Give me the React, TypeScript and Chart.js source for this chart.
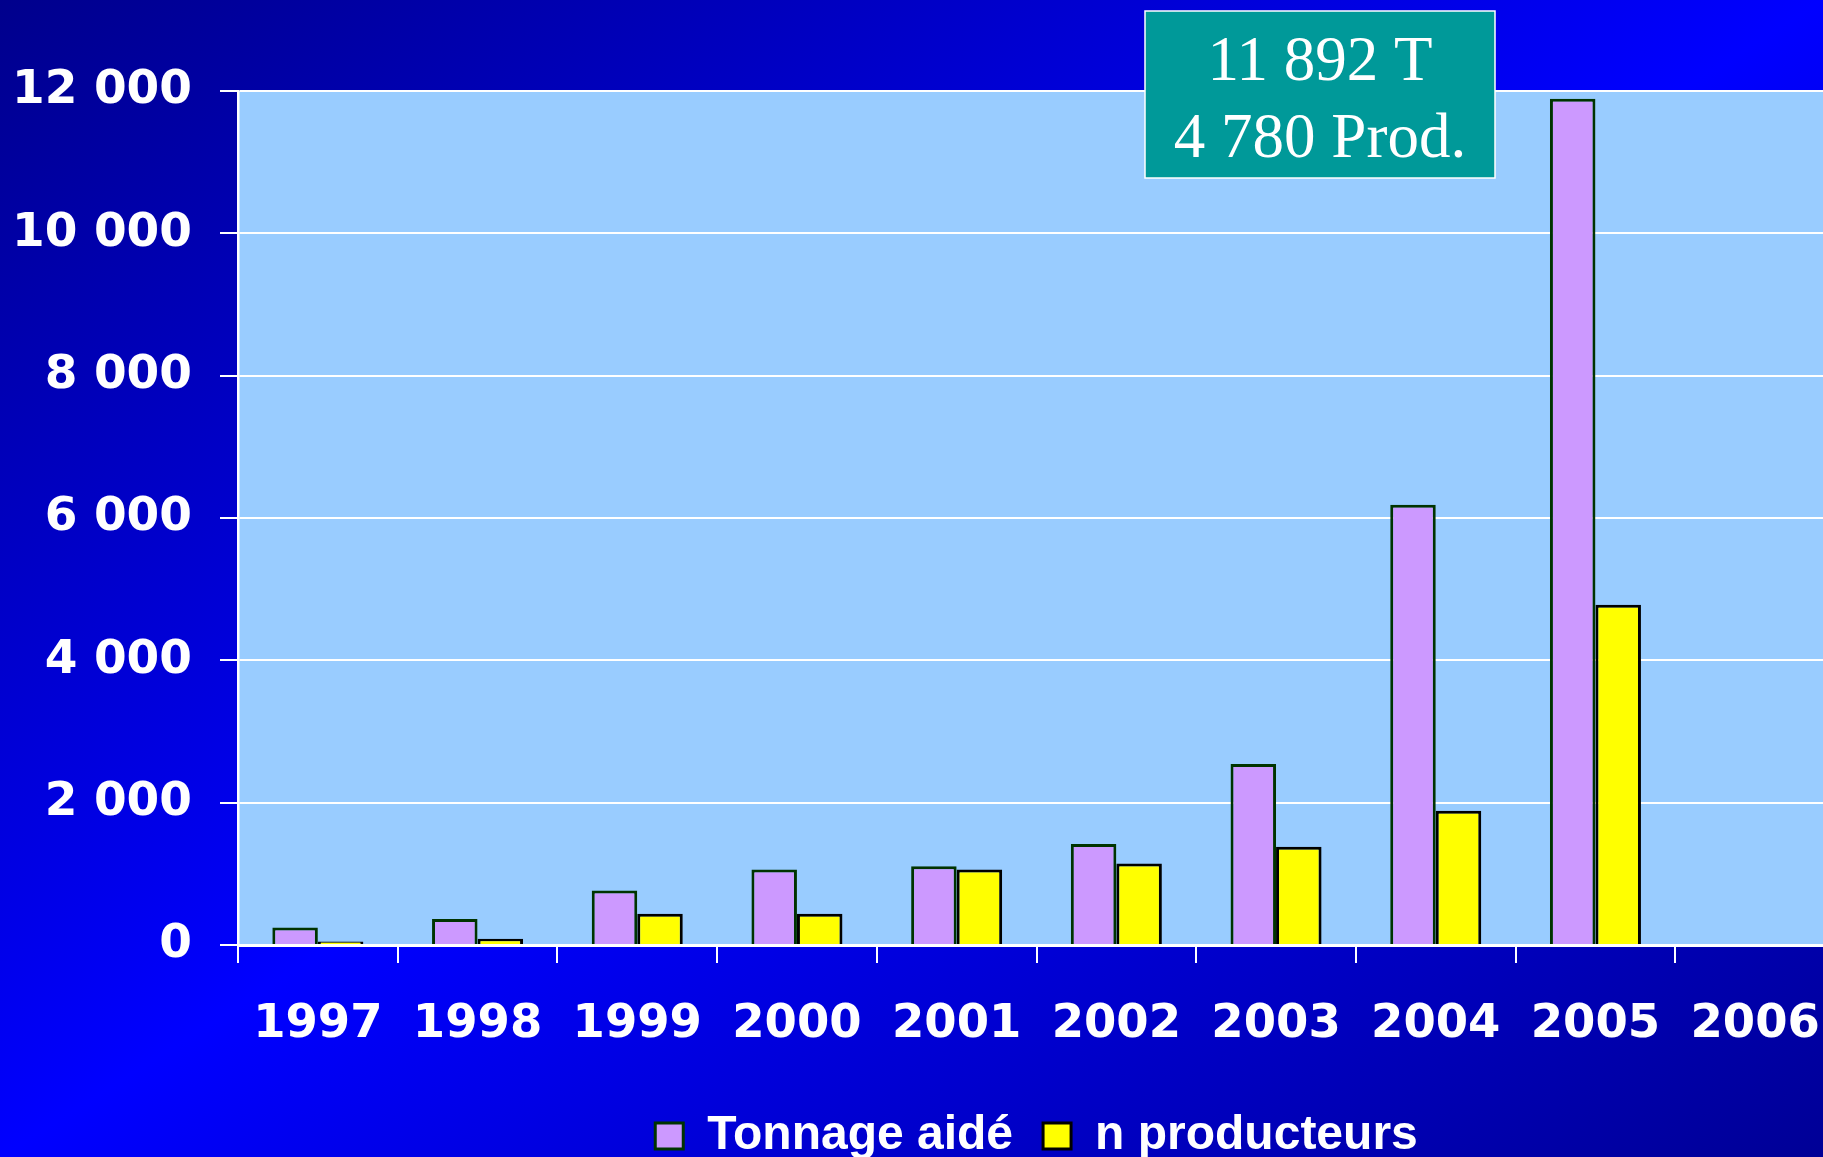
import React, { useEffect, useRef } from 'react';
import { Chart, registerables } from 'chart.js';

Chart.register(...registerables);

const years = ['1997', '1998', '1999', '2000', '2001', '2002', '2003', '2004', '2005', '2006'];
const tonnageAide = [245, 365, 765, 1060, 1105, 1420, 2545, 6185, 11892, null];
const nProducteurs = [48, 88, 440, 440, 1062, 1145, 1380, 1885, 4780, null];
const seriesNames = ['Tonnage aidé', 'n producteurs'];
const yMin = 0;
const yMax = 12000;
const yStep = 2000;
const calloutLines = ['11 892 T', '4 780 Prod.'];

const SANS = '"Liberation Sans", Arial, sans-serif';
const WIDE = '"DejaVu Sans", Verdana, sans-serif';
const SERIF = '"Liberation Serif", "Times New Roman", serif';

const fmt = (v: number) => String(v).replace(/\B(?=(\d{3})+(?!\d))/g, ' ');

const plotBg = {
  id: 'plotBg',
  beforeDraw(chart: any) {
    const { ctx, chartArea } = chart;
    ctx.save();
    ctx.fillStyle = '#99CCFF';
    ctx.fillRect(chartArea.left, chartArea.top, chartArea.right - chartArea.left, chartArea.bottom - chartArea.top);
    ctx.restore();
  },
};

const callout = {
  id: 'callout',
  afterDraw(chart: any) {
    const { ctx } = chart;
    const x = 1145, y = 11, w = 350, h = 167;
    ctx.save();
    ctx.fillStyle = '#009999';
    ctx.fillRect(x, y, w, h);
    ctx.strokeStyle = '#FFFFFF';
    ctx.lineWidth = 1.5;
    ctx.strokeRect(x, y, w, h);
    ctx.fillStyle = '#FFFFFF';
    ctx.font = `63px ${SERIF}`;
    ctx.textAlign = 'center';
    ctx.textBaseline = 'alphabetic';
    ctx.fillText(calloutLines[0], x + w / 2, 80);
    ctx.fillText(calloutLines[1], x + w / 2, 157);
    ctx.restore();
  },
};

export default function App() {
  const ref = useRef<HTMLCanvasElement>(null);

  useEffect(() => {
    if (!ref.current) return;
    const chart = new Chart(ref.current, {
      type: 'bar',
      data: {
        labels: years,
        datasets: [
          {
            label: seriesNames[0],
            data: tonnageAide,
            backgroundColor: '#CC99FF',
            borderColor: '#003300',
            borderWidth: 3,
            categoryPercentage: 0.57,
            barPercentage: 1.0,
          },
          {
            label: seriesNames[1],
            data: nProducteurs,
            backgroundColor: '#FFFF00',
            borderColor: '#000000',
            borderWidth: 3,
            categoryPercentage: 0.57,
            barPercentage: 1.0,
          },
        ],
      },
      options: {
        responsive: false,
        animation: false,
        devicePixelRatio: 1,
        layout: { autoPadding: false, padding: { top: 91, left: 0, right: 0, bottom: 0 } },
        plugins: {
          title: { display: false },
          tooltip: { enabled: false },
          legend: {
            position: 'bottom',
            fullSize: false,
            labels: {
              color: '#FFFFFF',
              font: { family: SANS, size: 48, weight: 'bold' },
              boxWidth: 28,
              boxHeight: 26,
              padding: 30,
            },
          },
        },
        scales: {
          x: {
            offset: true,
            grid: { display: true, drawOnChartArea: false, drawTicks: true, color: '#FFFFFF', lineWidth: 2, tickLength: 18, offset: true },
            border: { display: true, color: '#FFFFFF', width: 3 },
            ticks: {
              color: '#FFFFFF',
              font: { family: WIDE, size: 46.5, weight: 'bold', lineHeight: 1.2 },
              padding: 34,
              maxRotation: 0,
              autoSkip: false,
            },
            afterFit(scale: any) {
              scale.height = 137;
              scale.paddingLeft = 0;
              scale.paddingRight = 0;
            },
          },
          y: {
            min: yMin,
            max: yMax,
            grid: { color: '#FFFFFF', lineWidth: 2, tickLength: 18, drawTicks: true },
            border: { display: true, color: '#FFFFFF', width: 2.5 },
            ticks: {
              stepSize: yStep,
              color: '#FFFFFF',
              font: { family: WIDE, size: 47, weight: 'bold' },
              padding: 28,
              callback: (v: any) => fmt(Number(v)),
            },
            afterFit(scale: any) {
              scale.width = 238;
            },
          },
        },
      },
      plugins: [plotBg, callout],
    });
    return () => chart.destroy();
  }, []);

  return (
    <div
      style={{
        position: 'absolute',
        left: 0,
        top: 0,
        width: 1823,
        height: 1157,
        overflow: 'hidden',
        background: 'linear-gradient(to bottom right, #00008C 0%, #0000FF 50%, #000096 100%)',
      }}
    >
      <canvas ref={ref} width={1835} height={1170} style={{ display: 'block' }} />
    </div>
  );
}
